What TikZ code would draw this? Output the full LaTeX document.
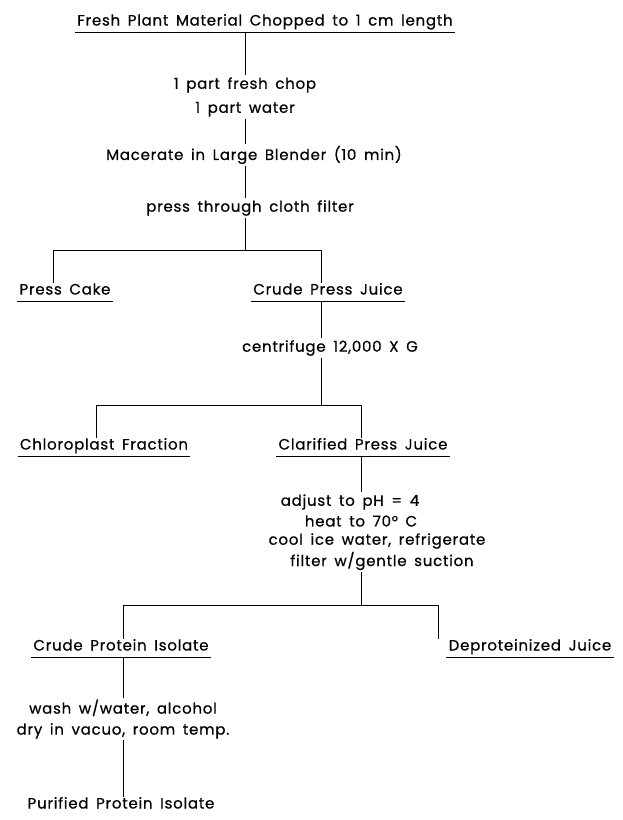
\documentclass[tikz,border=0pt]{standalone}
\usepackage{fontspec}
\setmainfont{Poppins}[LetterSpace=5,WordSpace=1.6,FakeBold=0.6]
\usetikzlibrary{positioning}

\tikzset{
  product/.style={inner xsep=2pt, inner ysep=4pt, text height=0.75em, text depth=0.25em},
  stage/.style={inner sep=1.5pt},
}

\begin{document}
\begin{tikzpicture}[x=1pt, y=-1pt, line width=0.9pt, font=\fontsize{15}{17}\selectfont]
    \useasboundingbox (0,0) rectangle (622,820);
    % products (underlined)
    \node[product] (plant) at (265,23) {Fresh Plant Material Chopped to 1 cm length};
    \node[product] (cake) at (65,292) {Press Cake};
    \node[product] (crude) at (328,292) {Crude Press Juice};
    \node[product] (chloro) at (104,447) {Chloroplast Fraction};
    \node[product] (clar) at (363,447) {Clarified Press Juice};
    \node[product] (isolate) at (121,648) {Crude Protein Isolate};
    \node[product] (deprot) at (530,648) {Deproteinized Juice};
    \node[product] (pure) at (121,806) {Purified Protein Isolate};
    \foreach \n in {plant, cake, crude, chloro, clar, isolate, deprot}
        \draw (\n.south west) -- (\n.south east);
    % process steps
    \node[stage, align=center] (chop) at (245,97) {1 part fresh chop\\[7pt]1 part water};
    \node[stage] (blend) at (254,155) {Macerate in Large Blender (10 min)};
    \node[stage] (press) at (250,208) {press through cloth filter};
    \node[stage] (spin) at (330,348) {centrifuge 12,000 X G};
    \node[stage] (adjust) at (350,502) {adjust to pH = 4};
    \node[stage] (heat) at (361,521) {heat to 70° C};
    \node[stage] (cool) at (377,541) {cool ice water, refrigerate};
    \node[stage] (filter) at (382,561) {filter w/gentle suction};
    \node[stage, align=center] (wash) at (123,719) {wash w/water, alcohol\\[4pt]dry in vacuo, room temp.};
    % branch points
    \coordinate (trunk) at (245,0);
    \coordinate (b1l) at (53,250);
    \coordinate (b1r) at (321,250);
    \coordinate (b2l) at (96,405);
    \coordinate (b2r) at (361,405);
    \coordinate (b3l) at (123,605);
    \coordinate (b3r) at (438,605);
    % connectors
    \draw (plant.south -| trunk) -- (chop.north -| trunk);
    \draw (chop.south -| trunk) -- (blend.north -| trunk);
    \draw (blend.south -| trunk) -- (press.north -| trunk);
    \draw (press.south -| trunk) -- (b1l -| trunk);
    \draw (cake.north -| b1l) -- (b1l) -- (b1r) -- (crude.north -| b1r);
    \draw (crude.south -| b1r) -- (spin.north -| b1r);
    \draw (spin.south -| b1r) -- (b2r -| b1r);
    \draw (chloro.north -| b2l) -- (b2l) -- (b2r) -- (clar.north -| b2r);
    \draw (clar.south -| b2r) -- (adjust.north -| b2r);
    \draw (filter.south -| b2r) -- (b3r -| b2r);
    \draw (isolate.north -| b3l) -- (b3l) -- (b3r) -- (deprot.north -| b3r);
    \draw (isolate.south -| b3l) -- (wash.north -| b3l);
    \draw (wash.south -| b3l) -- (pure.north -| b3l);
\end{tikzpicture}
\end{document}
